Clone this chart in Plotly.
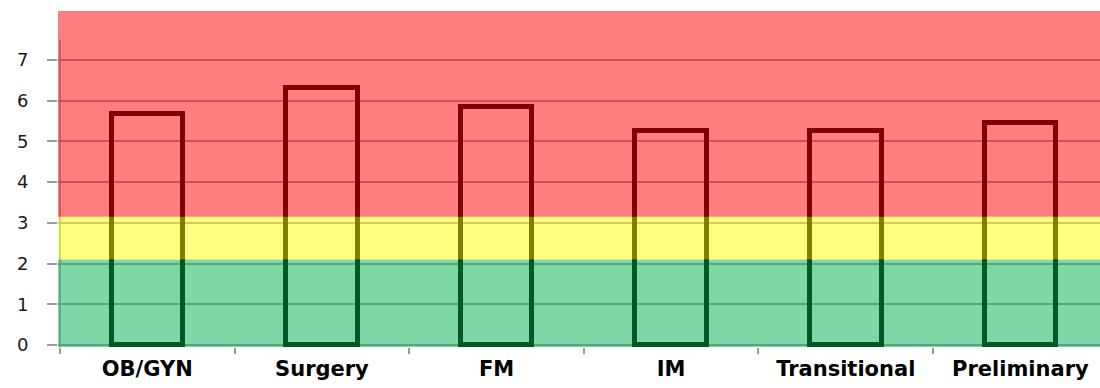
import plotly.graph_objects as go

# Mean scores per program
programs = ["OB/GYN", "Surgery", "FM", "IM", "Transitional", "Preliminary"]
scores = [5.68, 6.32, 5.84, 5.26, 5.26, 5.44]

# Rating zones (lower bound, upper bound, colour)
zone_bounds = [(-0.05, 2.1), (2.1, 3.15), (3.15, 8.2)]
zone_colors = ["rgba(0,176,80,0.5)", "rgba(255,255,0,0.5)", "rgba(255,0,0,0.5)"]
y_ticks = [0, 1, 2, 3, 4, 5, 6, 7]
axis_top = 7.5

fig = go.Figure()
fig.add_trace(go.Bar(
    x=programs,
    y=scores,
    width=0.41,
    marker=dict(color="rgba(0,0,0,0)", line=dict(color="black", width=5)),
    hoverinfo="x+y",
))

shapes = []
# vertical axis line, only up to 7.5
shapes.append(dict(type="line", xref="x", yref="y", x0=-0.5, x1=-0.5, y0=-0.05, y1=axis_top,
                   line=dict(color="#9a9a9a", width=1.5), layer="below"))
# translucent zone bands laid over the whole plot
for (lo, hi), col in zip(zone_bounds, zone_colors):
    shapes.append(dict(type="rect", xref="paper", yref="y", x0=0, x1=1, y0=lo, y1=hi,
                       fillcolor=col, line=dict(width=0), layer="above"))

fig.update_layout(
    width=1100, height=388,
    margin=dict(l=58, r=0, t=11, b=41),
    paper_bgcolor="white", plot_bgcolor="white",
    showlegend=False,
    shapes=shapes,
    bargap=0,
)
fig.update_xaxes(
    range=[-0.5115, 5.456],
    tickson="boundaries", ticks="outside", ticklen=6, tickwidth=1.5, tickcolor="#9a9a9a",
    showgrid=False, showline=False, zeroline=False,
    tickfont=dict(family="DejaVu Sans", size=21, color="black", weight="bold"),
    ticklabelstandoff=7,
)
fig.update_yaxes(
    range=[-0.05, 8.2],
    tickvals=y_ticks, ticks="outside", ticklen=10, tickwidth=1.5, tickcolor="#9a9a9a",
    showgrid=True, gridcolor="#a0a0a0", gridwidth=1.5,
    zeroline=False, showline=False,
    tickfont=dict(family="DejaVu Sans", size=18, color="#1a1a1a"),
    ticklabelstandoff=15,
)

fig.write_html("out.html")
